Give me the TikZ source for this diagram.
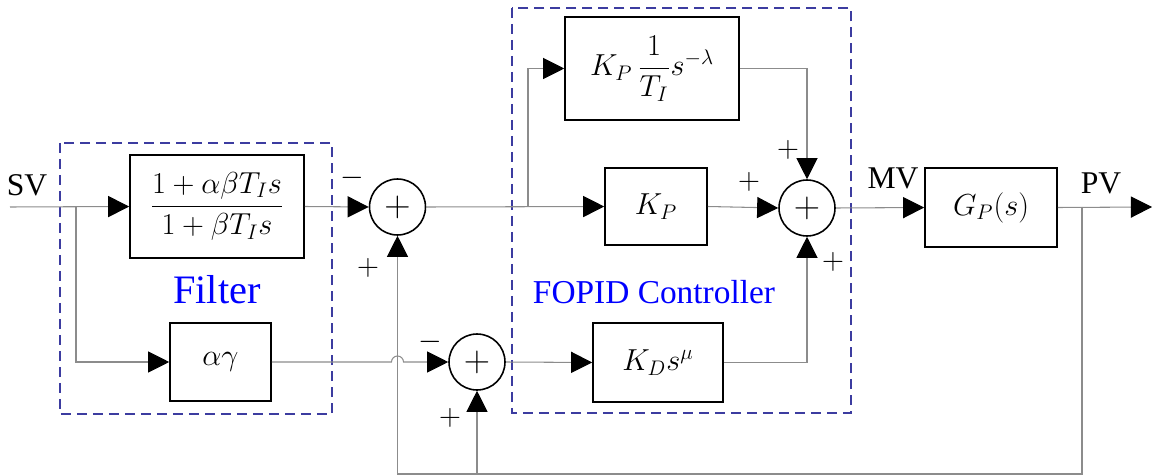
\documentclass[tikz,border=0pt]{standalone}
\usepackage{amsmath}
\usepackage{fontspec}
\setmainfont{Liberation Serif}
\usetikzlibrary{arrows.meta,positioning,calc}
\definecolor{frameblue}{RGB}{60,60,160}
\definecolor{wire}{RGB}{140,140,140}
\newcommand{\bigfs}{\fontsize{18}{21}\selectfont}
\tikzset{
  blk/.style={rectangle, draw=black, line width=0.9pt, font=\bigfs,
              inner sep=2pt, align=center},
  summ/.style={circle, draw=black, line width=0.9pt, minimum size=1.12cm,
               inner sep=0pt, font=\fontsize{22}{24}\selectfont},
  sig/.style={-{Triangle[length=12pt,width=12pt,color=black]}, draw=wire, line width=0.6pt},
  frame/.style={draw=frameblue, line width=1.1pt, dash pattern=on 0.2cm off 0.12cm},
  lbl/.style={font=\bigfs, inner sep=0pt},
  grouplbl/.style={font=\fontsize{19}{22}\selectfont, text=blue, inner sep=0pt},
}

\begin{document}
\begin{tikzpicture}[x=0.02cm, y=-0.02cm]
    \useasboundingbox (0,0) rectangle (1152,476);

    % Filter
    \draw[frame] (60,143) rectangle (332,414);
    \node[blk, minimum width=3.48cm, minimum height=2.06cm] (filt) at (217,206.5)
          {$\dfrac{1+\alpha\beta T_I s}{1+\beta T_I s}$};
    \node[blk, minimum width=2.02cm, minimum height=1.56cm] (ag) at (220.5,362)
          {$\alpha\gamma$};
    \node[grouplbl, font=\fontsize{23}{26}\selectfont] (filtlbl) at (217,290) {Filter};

    % sums
    \node[summ] (s1) at (397.5,207) {$+$};
    \node[summ] (s2) at (477,362) {$+$};
    \node[summ] (s3) at (807,208) {$+$};

    % FOPID
    \draw[frame] (512,8) rectangle (851,413);
    \node[blk, minimum width=3.48cm, minimum height=2.06cm] (ki) at (652,68.5)
          {$K_P\,\dfrac{1}{T_I}s^{-\lambda}$};
    \node[blk, minimum width=2.04cm, minimum height=1.54cm] (kp) at (656,206.5)
          {$K_P$};
    \node[blk, minimum width=2.6cm, minimum height=1.58cm] (kd) at (658,362.5)
          {$K_D s^{\mu}$};
    \node[grouplbl] (fopidlbl) at (654,292) {FOPID Controller};

    % plant
    \node[blk, minimum width=2.64cm, minimum height=1.58cm] (gp) at (991,207.5)
          {$G_P(s)$};

    % signal names
    \node[lbl] (sv) at (27,185) {SV};
    \node[lbl] (mv) at (893,178) {MV};
    \node[lbl] (pv) at (1101,183) {PV};

    % signs
    \node[lbl] (m1) at (352,178) {$-$};
    \node[lbl] (p1) at (368,268) {$+$};
    \node[lbl] (m2) at (430,342) {$-$};
    \node[lbl] (p2) at (450,418) {$+$};
    \node[lbl] (p3) at (749,182) {$+$};
    \node[lbl] (p4) at (788,150) {$+$};
    \node[lbl] (p5) at (833,262) {$+$};

    \coordinate (in) at (10,207);
    \coordinate (br1) at (76,207);
    \coordinate (br2) at (528,207);
    \coordinate (br3) at (1082,207);
    \coordinate (out) at (1152,207);
    \coordinate (fbm) at (477,474);
    \coordinate (hop) at (391.5,362);

    % forward path
    \draw[sig] (in) -- (filt.west);
    \draw[sig] (br1) |- (ag.west);
    \draw[sig] (filt.east) -- (s1.west);
    \draw[sig] (ag.east) -- (hop) arc[start angle=180, end angle=0, radius=0.12cm] -- (s2.west);
    \draw[sig] (s1.east) -- (kp.west);
    \draw[sig] (br2) |- (ki.west);
    \draw[sig] (s2.east) -- (kd.west);
    \draw[sig] (kp.east) -- (s3.west);
    \draw[sig] (ki.east) -| (s3.north);
    \draw[sig] (kd.east) -| (s3.south);
    \draw[sig] (s3.east) -- (gp.west);
    \draw[sig] (gp.east) -- (out);

    % feedback
    \draw[sig] (br3) |- (fbm) -| (s1.south);
    \draw[sig] (fbm) -- (s2.south);
\end{tikzpicture}
\end{document}
